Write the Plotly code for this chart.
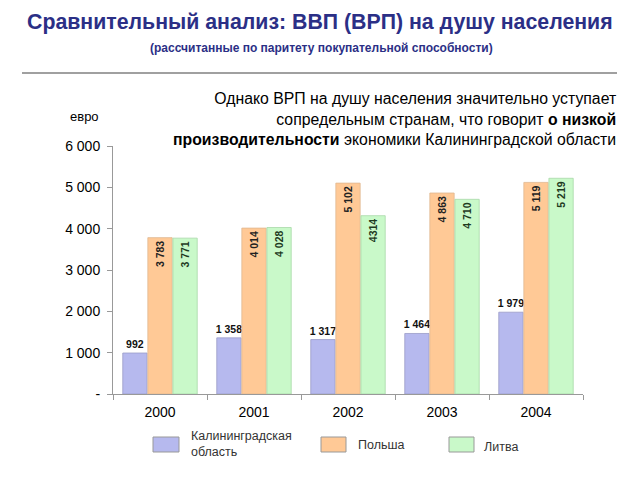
import plotly.graph_objects as go

years = ["2000", "2001", "2002", "2003", "2004"]
series_names = ["Калининградская<br>область", "Польша", "Литва"]
kalin = [992, 1358, 1317, 1464, 1979]
poland = [3783, 4014, 5102, 4863, 5119]
lithuania = [3771, 4028, 4314, 4710, 5219]
kalin_labels = ["992", "1 358", "1 317", "1 464", "1 979"]
poland_labels = ["3 783", "4 014", "5 102", "4 863", "5 119"]
lith_labels = ["3 771", "4 028", "4314", "4 710", "5 219"]
ytick_vals = [0, 1000, 2000, 3000, 4000, 5000, 6000]
ytick_text = ["-", "1 000", "2 000", "3 000", "4 000", "5 000", "6 000"]
colors = ["#B6B9EE", "#FFC996", "#C9F9C9"]

FONT = "Liberation Sans, Arial, sans-serif"
L, R, T, B = 113, 57, 146, 86
W, H = 640, 480
PW, PH = W - L - R, H - T - B

def px(x):
    return (x - L) / PW

def py(y):
    return (H - B - y) / PH

fig = go.Figure()
fig.add_trace(go.Bar(x=years, y=kalin, name=series_names[0], text=kalin_labels,
                     texttemplate="<b>%{text}</b>",
                     textposition="outside", textangle=0, constraintext="none",
                     textfont=dict(size=10.5, color="#111111", family=FONT),
                     marker=dict(color=colors[0], line=dict(color="#9A9CC8", width=0.8)),
                     cliponaxis=False))
fig.add_trace(go.Bar(x=years, y=poland, name=series_names[1], text=poland_labels,
                     texttemplate="<b>%{text}</b>",
                     textposition="inside", insidetextanchor="end", textangle=-90,
                     constraintext="none",
                     textfont=dict(size=10.5, color="#222222", family=FONT),
                     marker=dict(color=colors[1], line=dict(color="#E0B890", width=0.8))))
fig.add_trace(go.Bar(x=years, y=lithuania, name=series_names[2], text=lith_labels,
                     texttemplate="<b>%{text}</b>",
                     textposition="inside", insidetextanchor="end", textangle=-90,
                     constraintext="none",
                     textfont=dict(size=10.5, color="#1E3A1E", family=FONT),
                     marker=dict(color=colors[2], line=dict(color="#A8D8A8", width=0.8))))

anns = [
    dict(text="<b>Сравнительный анализ: ВВП (ВРП) на душу населения</b>",
         x=px(320), y=py(22), font=dict(size=21.3, color="#2B2F86", family=FONT)),
    dict(text="<b>(рассчитанные по паритету покупательной способности)</b>",
         x=px(321), y=py(48), font=dict(size=12, color="#2B2F86", family=FONT)),
    dict(text="Однако ВРП на душу населения значительно уступает<br>"
              "сопредельным странам, что говорит <b>о низкой</b><br>"
              "<b>производительности</b> экономики Калининградской области",
         x=px(618), y=py(119), xanchor="right", align="right",
         font=dict(size=15.8, color="black", family=FONT)),
    dict(text="евро", x=px(84), y=py(116), font=dict(size=13, color="black", family=FONT)),
]
legend_boxes = [(153, 179, 437, 452), (321, 346, 437, 452), (449, 474, 437, 452)]
legend_text_pos = [(189, 444), (356, 445), (482, 447)]
shapes = [dict(type="line", xref="paper", yref="paper", x0=px(22), x1=px(617),
               y0=py(73), y1=py(73), line=dict(color="#808080", width=1.5))]
for i, (x0, x1, y0, y1) in enumerate(legend_boxes):
    shapes.append(dict(type="rect", xref="paper", yref="paper", x0=px(x0), x1=px(x1),
                       y0=py(y1), y1=py(y0), fillcolor=colors[i],
                       line=dict(color="#999999", width=1)))
    tx, ty = legend_text_pos[i]
    anns.append(dict(text=series_names[i], x=px(tx), y=py(ty), xanchor="left", align="left",
                     font=dict(size=12.5, color="#333333", family=FONT)))
for a in anns:
    a.setdefault("xanchor", "center")
    a.update(xref="paper", yref="paper", yanchor="middle", showarrow=False)

fig.update_layout(
    width=W, height=H, margin=dict(l=L, r=R, t=T, b=B, autoexpand=False),
    paper_bgcolor="white", plot_bgcolor="white", showlegend=False,
    barmode="group", bargap=0.2, bargroupgap=0.03,
    font=dict(family=FONT, color="black"),
    annotations=anns, shapes=shapes, uniformtext=dict(mode=False),
)
fig.update_xaxes(showline=True, linecolor="#999999", linewidth=1, ticks="outside",
                 tickson="boundaries", ticklen=5, tickcolor="#999999",
                 ticklabelstandoff=5,
                 tickfont=dict(size=14, color="black"), showgrid=False)
fig.update_yaxes(range=[0, 6000], tickvals=ytick_vals, ticktext=ytick_text,
                 showline=True, linecolor="#999999", linewidth=1, ticks="outside",
                 ticklen=5, tickcolor="#999999", showgrid=False, zeroline=False,
                 ticklabelstandoff=4,
                 tickfont=dict(size=14, color="black"))
fig.write_html("out.html", config={"displayModeBar": False},
               post_script="document.body.style.margin='0';")
